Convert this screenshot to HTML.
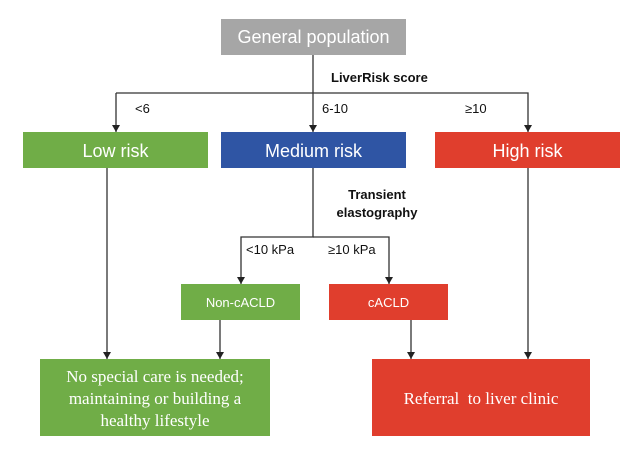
<!DOCTYPE html>
<html><head><meta charset="utf-8"><style>body{margin:0;background:#fff}svg{display:block}</style></head><body>
<svg width="639" height="457" viewBox="0 0 639 457" xmlns="http://www.w3.org/2000/svg">
<defs><marker id="a" markerWidth="8" markerHeight="8" refX="7" refY="4" orient="auto" markerUnits="userSpaceOnUse"><path d="M0,0 L7,4 L0,8 z" fill="#222"/></marker></defs>
<g font-family="Liberation Sans, sans-serif">
<rect x="221" y="19" width="185" height="36" fill="#a6a6a6"/>
<text x="313.5" y="43" font-size="18" fill="#fff" text-anchor="middle">General population</text>
<g stroke="#333" stroke-width="1.3" fill="none">
<line x1="313" y1="55" x2="313" y2="132" marker-end="url(#a)"/>
<polyline points="116,93 528,93 528,132" marker-end="url(#a)"/>
<line x1="116" y1="93" x2="116" y2="132" marker-end="url(#a)"/>
<line x1="107" y1="168" x2="107" y2="359" marker-end="url(#a)"/>
<line x1="528" y1="168" x2="528" y2="359" marker-end="url(#a)"/>
<polyline points="313,168 313,237 241,237 241,284" marker-end="url(#a)"/>
<polyline points="313,237 389,237 389,284" marker-end="url(#a)"/>
<line x1="220" y1="320" x2="220" y2="359" marker-end="url(#a)"/>
<line x1="411" y1="320" x2="411" y2="359" marker-end="url(#a)"/>
</g>
<text x="331" y="82" font-size="13" font-weight="bold" fill="#111">LiverRisk score</text>
<text x="135" y="113" font-size="13" fill="#111">&lt;6</text>
<text x="322" y="113" font-size="13" fill="#111">6-10</text>
<text x="465" y="113" font-size="13" fill="#111">≥10</text>
<rect x="23" y="132" width="185" height="36" fill="#70ad47"/>
<text x="115.5" y="157" font-size="18" fill="#fff" text-anchor="middle">Low risk</text>
<rect x="221" y="132" width="185" height="36" fill="#2f55a4"/>
<text x="313.5" y="157" font-size="18" fill="#fff" text-anchor="middle">Medium risk</text>
<rect x="435" y="132" width="185" height="36" fill="#e03e2d"/>
<text x="527.5" y="157" font-size="18" fill="#fff" text-anchor="middle">High risk</text>
<text x="377" y="199" font-size="13" font-weight="bold" fill="#111" text-anchor="middle">Transient</text>
<text x="377" y="217" font-size="13" font-weight="bold" fill="#111" text-anchor="middle">elastography</text>
<text x="246" y="254" font-size="13" fill="#111">&lt;10 kPa</text>
<text x="328" y="254" font-size="13" fill="#111">≥10 kPa</text>
<rect x="181" y="284" width="119" height="36" fill="#70ad47"/>
<text x="240.5" y="307" font-size="13" fill="#fff" text-anchor="middle">Non-cACLD</text>
<rect x="329" y="284" width="119" height="36" fill="#e03e2d"/>
<text x="388.5" y="307" font-size="13" fill="#fff" text-anchor="middle">cACLD</text>
</g>
<g font-family="Liberation Serif, serif" font-size="17" fill="#fff" text-anchor="middle">
<rect x="40" y="359" width="230" height="77" fill="#70ad47"/>
<text x="155" y="382">No special care is needed;</text>
<text x="155" y="404">maintaining or building a</text>
<text x="155" y="426">healthy lifestyle</text>
<rect x="372" y="359" width="218" height="77" fill="#e03e2d"/>
<text x="481" y="404" xml:space="preserve">Referral  to liver clinic</text>
</g>
</svg>
</body></html>
